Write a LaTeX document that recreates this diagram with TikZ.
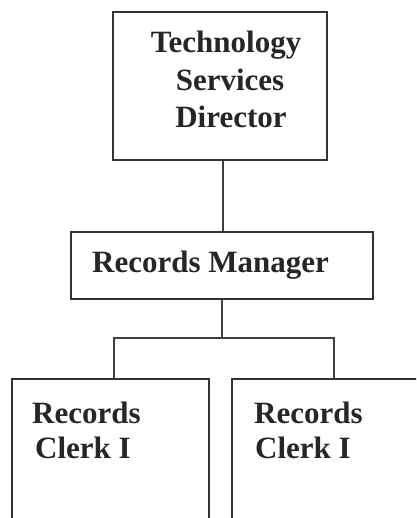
\documentclass[tikz,border=0pt]{standalone}
\usepackage{fontspec}
\setmainfont{Liberation Serif}
\begin{document}
\begin{tikzpicture}[x=1pt,y=-1pt,
  box/.style={draw=black!80, line width=1.5pt, minimum width=#1, inner sep=0pt},
  lbl/.style={font=\fontsize{31}{37}\selectfont\bfseries, text=black!85, inner sep=0pt, anchor=base},
  lblw/.style={lbl, anchor=base west},
  link/.style={draw=black!75, line width=1.3pt}]
\useasboundingbox (0,0) rectangle (416,518);
\clip (0,0) rectangle (416,518);

% boxes
\node[box=214pt, minimum height=148pt] (dir) at (220,86) {};
\node[box=302pt, minimum height=67pt] (mgr) at (222,265.5) {};
\node[box=197pt, minimum height=170pt] (clkA) at (110.5,464) {};
\node[box=200pt, minimum height=170pt] (clkB) at (332,464) {};

% titles
\node[lbl] (t1) at (226,53) {Technology};
\node[lbl] (t2) at (230,91) {Services};
\node[lbl] (t3) at (231,128) {Director};
\node[lblw] (m1) at (92,272) {Records Manager};
\node[lblw] (a1) at (32,423) {Records};
\node[lblw] (a2) at (35,458) {Clerk I};
\node[lblw] (b1) at (254,423) {Records};
\node[lblw] (b2) at (255,458) {Clerk I};

% reporting lines
\coordinate (bus) at (222,338);
\coordinate (busA) at (114,338);
\coordinate (busB) at (334,338);
\draw[link] (dir.south -| 223,0) -- (mgr.north -| 223,0);
\draw[link] (mgr.south -| bus) -- (bus);
\draw[link] (clkA.north -| busA) -- (busA) -- (busB) -- (clkB.north -| busB);
\end{tikzpicture}
\end{document}
